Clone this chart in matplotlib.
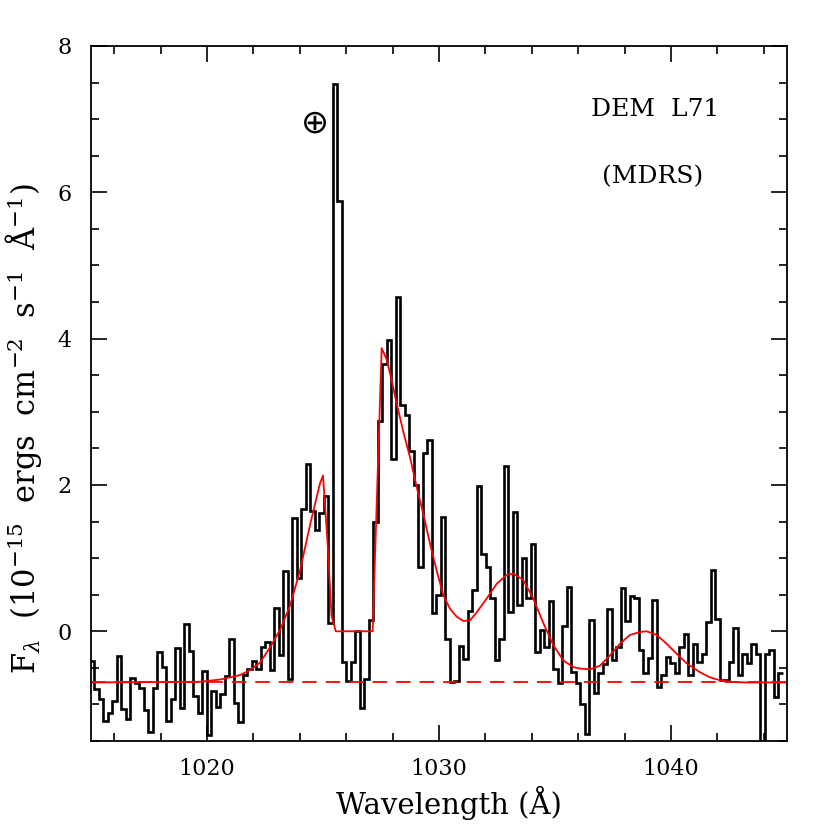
import numpy as np
import matplotlib
matplotlib.use("Agg")
import matplotlib.pyplot as plt
from matplotlib.ticker import MultipleLocator

# ---------------- data ----------------
bin_start = 1014.946      # left edge of first bin (Angstrom)
bin_width = 0.194         # Angstrom
flux = [
    -0.40, -0.79, -0.93, -1.23, -1.12, -0.95, -0.34, -1.06, -1.20, -0.64,
    -0.71, -0.78, -1.07, -1.38, -0.78, -0.28, -0.49, -1.23, -0.92, -0.23,
    -1.05, 0.10, -0.27, -0.88, -1.12, -0.54, -1.42, -0.81, -1.03, -0.86,
    -0.61, -0.11, -0.98, -1.24, -0.60, -0.52, -0.40, -0.52, -0.21, -0.15,
    -0.53, 0.32, -0.33, 0.82, -0.65, 1.55, 0.73, 1.67, 2.29, 1.65,
    1.38, 1.61, 1.85, 0.12, 7.48, 5.88, -0.42, -0.68, -0.42, 0.01,
    -1.05, -0.65, 0.15, 1.50, 2.88, 3.65, 3.98, 2.36, 4.57, 3.09,
    2.96, 2.47, 2.00, 0.88, 2.44, 2.61, 0.25, 0.50, 1.56, -0.10,
    -0.70, -0.68, -0.20, -0.38, 0.28, 0.57, 1.99, 1.06, 0.88, 0.45,
    -0.39, -0.11, 2.26, 0.26, 1.63, 0.36, 1.00, 0.46, 1.19, -0.29,
    0.02, -0.21, 0.41, -0.52, -0.71, 0.07, 0.61, -0.55, -0.71, -0.99,
    -1.41, 0.15, -0.85, -0.57, -0.45, 0.31, -0.39, -0.21, 0.59, 0.14,
    0.48, 0.45, -0.25, -0.57, -0.37, 0.43, -0.76, -0.60, -0.35, -0.44,
    -0.57, -0.21, -0.04, -0.60, -0.18, -0.42, -0.31, 0.13, 0.84, 0.17,
    -0.67, -0.67, -0.42, 0.05, -0.60, -0.31, -0.44, -0.18, -0.31, -1.90,
    -0.31, -0.25, -0.90, -0.57,
]

model_wave = [1015.00, 1019.70, 1020.56, 1021.42, 1021.85, 1022.28, 1022.72,
              1023.15, 1023.58, 1024.01, 1024.44, 1024.87, 1025.00, 1025.20,
              1025.37, 1025.55, 1027.14, 1027.53, 1027.75, 1027.96, 1028.18,
              1028.46, 1028.75, 1029.04, 1029.32, 1029.61, 1029.90, 1030.19,
              1030.47, 1030.76, 1031.05, 1031.34, 1031.63, 1032.06, 1032.49,
              1032.92, 1033.20, 1033.63, 1034.06, 1034.50, 1034.93, 1035.36,
              1035.79, 1036.08, 1036.51, 1036.94, 1037.37, 1037.80, 1038.23,
              1038.66, 1038.95, 1039.38, 1039.81, 1040.25, 1040.68, 1041.25,
              1041.68, 1042.11, 1042.54, 1043.19, 1045.00]
model_flux = [-0.70, -0.69, -0.66, -0.60, -0.53, -0.43, -0.22,
              0.02, 0.35, 0.83, 1.45, 2.02, 2.13, 1.20,
              0.21, 0.00, 0.00, 3.87, 3.71, 3.43, 3.11,
              2.73, 2.38, 1.97, 1.61, 1.20, 0.83, 0.49,
              0.31, 0.20, 0.14, 0.15, 0.26, 0.45, 0.65,
              0.77, 0.79, 0.70, 0.45, 0.11, -0.19, -0.40,
              -0.49, -0.51, -0.52, -0.47, -0.33, -0.17, -0.05,
              -0.01, 0.00, -0.05, -0.17, -0.31, -0.44, -0.56,
              -0.63, -0.67, -0.69, -0.70, -0.70]

continuum_level = -0.70
x_ticks = [1020, 1030, 1040]
y_ticks = [0, 2, 4, 6, 8]

# ---------------- plot ----------------
plt.rcParams['font.family'] = ['DejaVu Serif', 'DejaVu Sans']
plt.rcParams['mathtext.fontset'] = 'dejavuserif'

fig = plt.figure(figsize=(8.3, 8.3), dpi=100)
ax = fig.add_axes([0.1096, 0.1072, 0.8386, 0.8374])

edges = bin_start + bin_width * np.arange(len(flux) + 1)
ax.stairs(flux, edges, baseline=None, color='black', linewidth=1.9)
ax.plot(model_wave, model_flux, color='red', linewidth=1.3)
ax.axhline(continuum_level, color='red', linewidth=1.3, linestyle=(0, (8, 5)))

ax.set_xlim(1015, 1045)
ax.set_ylim(-1.5, 8)
ax.set_xticks(x_ticks)
ax.set_yticks(y_ticks)
ax.xaxis.set_minor_locator(MultipleLocator(2))
ax.yaxis.set_minor_locator(MultipleLocator(0.5))
ax.tick_params(which='both', direction='in', top=True, right=True,
               width=1.2, labelsize=16)
ax.tick_params(which='major', length=11.5)
ax.tick_params(which='minor', length=5.8)
ax.tick_params(axis='x', pad=12)
ax.tick_params(axis='y', pad=14)
for s in ax.spines.values():
    s.set_linewidth(1.3)

ax.set_xlabel('Wavelength (Å)', fontsize=21)
ax.set_ylabel(r'F$_\lambda$  (10$^{-15}$  ergs  cm$^{-2}$  s$^{-1}$  Å$^{-1}$)',
              fontsize=22)
ax.xaxis.set_label_coords(0.515, -0.065)
ax.yaxis.set_label_coords(-0.068, 0.45)

ax.text(1039.3, 7.13, 'DEM  L71', fontsize=18, ha='center', va='center')
ax.text(1039.2, 6.22, '(MDRS)', fontsize=18, ha='center', va='center')
ax.text(1024.66, 6.95, '⊕', fontsize=24, ha='center', va='center',
        family=['DejaVu Sans'])

fig.savefig('out.png', dpi=100)
